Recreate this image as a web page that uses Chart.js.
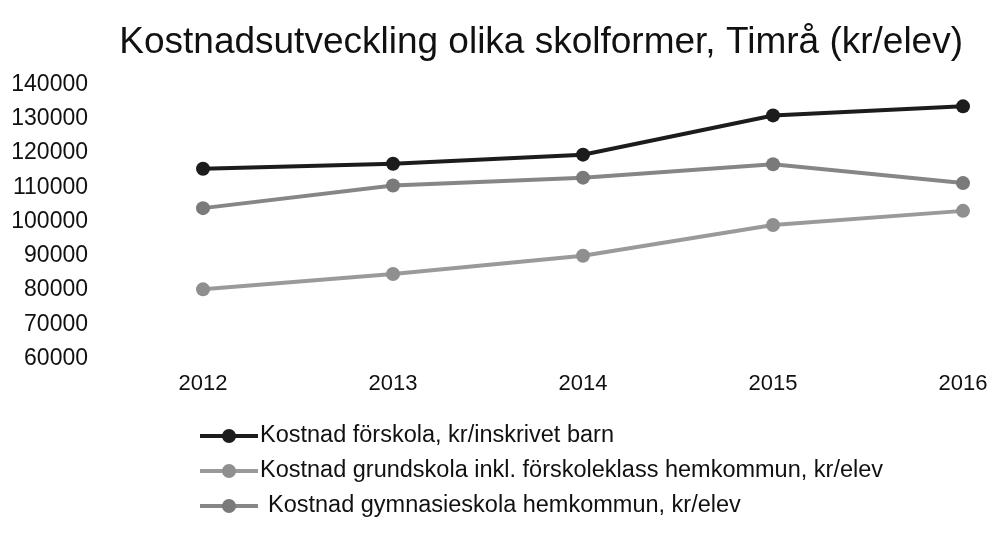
<!DOCTYPE html>
<html>
<head>
<meta charset="utf-8">
<script src="https://cdn.jsdelivr.net/npm/chart.js@4.4.1/dist/chart.umd.min.js"></script>
<style>
  html, body { margin: 0; padding: 0; background: #fff; }
  #wrap { width: 992px; height: 534px; }
</style>
</head>
<body>
<div id="wrap"><canvas id="costChart"></canvas></div>
<script>
const years = ['2012', '2013', '2014', '2015', '2016'];
const forskola = [115400, 116850, 119500, 130950, 133600];
const grundskola = [80200, 84700, 90000, 99000, 103100];
const gymnasieskola = [103900, 110500, 112800, 116700, 111200];
const yTicks = [60000, 70000, 80000, 90000, 100000, 110000, 120000, 130000, 140000];

const FONT = "'Liberation Sans', Arial, sans-serif";

// vertical legend drawn under the x axis
const stackedLegend = {
    id: 'stackedLegend',
    afterDraw(chart) {
        const ctx = chart.ctx;
        const left = chart.chartArea.left - 3;
        const rowY = [436, 471, 506];
        const textGap = [2, 2, 10];
        chart.data.datasets.forEach((ds, i) => {
            const y = rowY[i];
            ctx.save();
            ctx.strokeStyle = ds.borderColor;
            ctx.lineWidth = 4;
            ctx.beginPath();
            ctx.moveTo(left, y);
            ctx.lineTo(left + 58, y);
            ctx.stroke();
            ctx.fillStyle = ds.pointBackgroundColor;
            ctx.beginPath();
            ctx.arc(left + 29, y, 7, 0, Math.PI * 2);
            ctx.fill();
            ctx.fillStyle = '#111';
            ctx.font = '23.5px ' + FONT;
            ctx.textBaseline = 'middle';
            ctx.fillText(ds.label, left + 58 + textGap[i], y);
            ctx.restore();
        });
    }
};

const data = {
    labels: years,
    datasets: [
        {
            label: 'Kostnad förskola, kr/inskrivet barn',
            data: forskola,
            borderColor: '#1c1c1c',
            pointBackgroundColor: '#1c1c1c',
            pointBorderColor: '#1c1c1c',
        },
        {
            label: 'Kostnad grundskola inkl. förskoleklass hemkommun, kr/elev',
            data: grundskola,
            borderColor: '#9a9a9a',
            pointBackgroundColor: '#8f8f8f',
            pointBorderColor: '#8f8f8f',
        },
        {
            label: 'Kostnad gymnasieskola hemkommun, kr/elev',
            data: gymnasieskola,
            borderColor: '#868686',
            pointBackgroundColor: '#7a7a7a',
            pointBorderColor: '#7a7a7a',
        }
    ]
};

data.datasets.forEach(ds => {
    ds.borderWidth = 4;
    ds.pointRadius = 7;
    ds.pointBorderWidth = 0;
    ds.tension = 0;
    ds.clip = false;
});

const config = {
    type: 'line',
    data: data,
    plugins: [stackedLegend],
    options: {
        responsive: true,
        maintainAspectRatio: false,
        animation: false,
        layout: {
            padding: { left: 10, right: 29, top: 0, bottom: 125 }
        },
        plugins: {
            title: {
                display: true,
                text: 'Kostnadsutveckling olika skolformer, Timrå (kr/elev)',
                align: 'end',
                color: '#111',
                font: { family: FONT, size: 37, weight: 'normal' },
                padding: { top: 21, bottom: 19 }
            },
            legend: { display: false },
            tooltip: { enabled: false }
        },
        scales: {
            x: {
                offset: false,
                afterFit(axis) {
                    axis.paddingLeft = 0;
                    axis.paddingRight = 0;
                },
                border: { display: false },
                grid: { display: false, drawTicks: false },
                ticks: {
                    color: '#111',
                    padding: 12,
                    maxRotation: 0,
                    font: { family: FONT, size: 22 }
                }
            },
            y: {
                min: 60000,
                max: 140000,
                afterBuildTicks(axis) {
                    axis.ticks = yTicks.map(v => ({ value: v }));
                },
                afterFit(axis) {
                    axis.width = 193;
                    axis.paddingTop = 12;
                    axis.paddingBottom = 12;
                },
                border: { display: false },
                grid: { display: false, drawTicks: false },
                ticks: {
                    color: '#111',
                    padding: 115,
                    autoSkip: false,
                    callback: v => String(v),
                    font: { family: FONT, size: 23 }
                }
            }
        }
    }
};

const ctx = document.getElementById('costChart').getContext('2d');
new Chart(ctx, config);
</script>
</body>
</html>
